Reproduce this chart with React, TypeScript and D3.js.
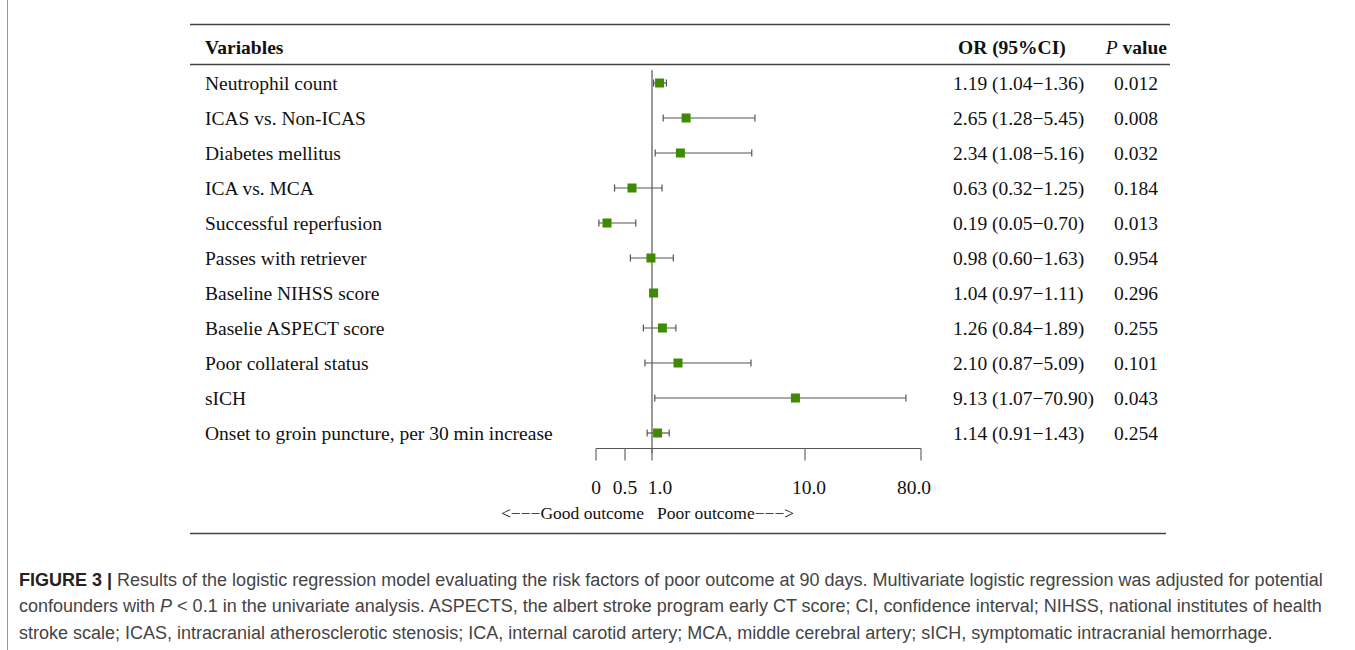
import React from "react";
import * as d3 from "d3";

const variables = [
  "Neutrophil count",
  "ICAS vs. Non-ICAS",
  "Diabetes mellitus",
  "ICA vs. MCA",
  "Successful reperfusion",
  "Passes with retriever",
  "Baseline NIHSS score",
  "Baselie ASPECT score",
  "Poor collateral status",
  "sICH",
  "Onset to groin puncture, per 30 min increase",
];
const oddsRatios = [1.19, 2.65, 2.34, 0.63, 0.19, 0.98, 1.04, 1.26, 2.1, 9.13, 1.14];
const ciLow = [1.04, 1.28, 1.08, 0.32, 0.05, 0.6, 0.97, 0.84, 0.87, 1.07, 0.91];
const ciHigh = [1.36, 5.45, 5.16, 1.25, 0.7, 1.63, 1.11, 1.89, 5.09, 70.9, 1.43];
const pValues = ["0.012", "0.008", "0.032", "0.184", "0.013", "0.954", "0.296", "0.255", "0.101", "0.043", "0.254"];
const tickValues = [0, 0.5, 1, 10, 80];
const tickLabels = ["0", "0.5", "1.0", "10.0", "80.0"];

const serif = "'Liberation Serif', 'Times New Roman', serif";
const sans = "'Liberation Sans', Arial, sans-serif";
const green = "#3f8a00";
const ink = "#444";
const fs = 19.5;

const fmt = (v: number) => v.toFixed(2);

export default function App() {
  // the original axis is hand-spaced, not linear or log, so use a piecewise scale
  const x = d3
    .scaleLinear()
    .domain([0, 0.5, 1, 1.5, 2.5, 5, 10, 80])
    .range([596, 625, 652, 672, 682, 750, 805, 921]);
  const y = d3.scaleBand().domain(variables).range([65.5, 450.5]);
  const cy = (v: string) => (y(v) as number) + y.bandwidth() / 2;
  const axisY = 448.5;
  const capH = 3.5;
  const sq = 9;

  return (
    <div style={{ position: "absolute", left: 0, top: 0 }}>
      <svg width={1355} height={650} style={{ display: "block" }}>
        <rect width={1355} height={650} fill="#fff" />
        <line x1={7.5} x2={7.5} y1={0} y2={650} stroke="#999" strokeWidth={1} />

        {/* table rules */}
        <line x1={190} x2={1170} y1={24.5} y2={24.5} stroke={ink} strokeWidth={1.5} />
        <line x1={190} x2={1170} y1={64.5} y2={64.5} stroke={ink} strokeWidth={1.5} />
        <line x1={190} x2={1166} y1={533.5} y2={533.5} stroke={ink} strokeWidth={1.5} />

        {/* header */}
        <g fontFamily={serif} fontSize={fs} fill="#111">
          <text x={205} y={53.5} fontWeight="bold">Variables</text>
          <text x={958} y={53.5} fontWeight="bold">OR (95%CI)</text>
          <text x={1167} y={53.5} textAnchor="end">
            <tspan fontStyle="italic">P</tspan>
            <tspan fontWeight="bold"> value</tspan>
          </text>
        </g>

        {/* reference line at OR = 1 */}
        <line x1={x(1)} x2={x(1)} y1={70} y2={453} stroke="#555" strokeWidth={1.2} />

        {variables.map((v, i) => {
          const yy = cy(v);
          return (
            <g key={v}>
              <text x={205} y={yy + 0.5} dy="0.35em" fontFamily={serif} fontSize={fs} fill="#111">
                {v}
              </text>
              <line x1={x(ciLow[i])} x2={x(ciHigh[i])} y1={yy} y2={yy} stroke="#555" strokeWidth={1.2} />
              <line x1={x(ciLow[i])} x2={x(ciLow[i])} y1={yy - capH} y2={yy + capH} stroke="#555" strokeWidth={1.2} />
              <line x1={x(ciHigh[i])} x2={x(ciHigh[i])} y1={yy - capH} y2={yy + capH} stroke="#555" strokeWidth={1.2} />
              <rect x={x(oddsRatios[i]) - sq / 2} y={yy - sq / 2} width={sq} height={sq} fill={green} />
              <text x={953} y={yy + 0.5} dy="0.35em" fontFamily={serif} fontSize={fs} fill="#111">
                {`${fmt(oddsRatios[i])} (${fmt(ciLow[i])}\u2212${fmt(ciHigh[i])})`}
              </text>
              <text x={1136} y={yy + 0.5} dy="0.35em" textAnchor="middle" fontFamily={serif} fontSize={fs} fill="#111">
                {pValues[i]}
              </text>
            </g>
          );
        })}

        {/* x axis, ticks hanging below */}
        <line x1={x(0)} x2={x(80)} y1={axisY} y2={axisY} stroke="#555" strokeWidth={1.2} />
        {tickValues.map((t, i) => (
          <g key={t}>
            <line x1={x(t)} x2={x(t)} y1={axisY} y2={axisY + 12} stroke="#666" strokeWidth={1.2} />
            <text
              x={x(t) + (t === 1 ? 8 : t === 10 ? 4 : t === 80 ? -7 : 0)}
              y={494}
              textAnchor="middle"
              fontFamily={serif}
              fontSize={fs}
              fill="#111"
            >
              {tickLabels[i]}
            </text>
          </g>
        ))}
        <g fontFamily={serif} fontSize={17.5} fill="#111">
          <text x={644} y={519} textAnchor="end">{"<\u2212\u2212\u2212Good outcome"}</text>
          <text x={657} y={519}>{"Poor outcome\u2212\u2212\u2212>"}</text>
        </g>

        {/* caption */}
        <g fontFamily={sans} fontSize={18} fill="#444">
          <text x={19} y={585.5}>
            <tspan fontWeight="bold" fill="#222">FIGURE 3 |</tspan>
            <tspan> Results of the logistic regression model evaluating the risk factors of poor outcome at 90 days. Multivariate logistic regression was adjusted for potential</tspan>
          </text>
          <text x={19} y={612}>
            <tspan>confounders with </tspan>
            <tspan fontStyle="italic">P</tspan>
            <tspan> &lt; 0.1 in the univariate analysis. ASPECTS, the albert stroke program early CT score; CI, confidence interval; NIHSS, national institutes of health</tspan>
          </text>
          <text x={19} y={638.5}>
            stroke scale; ICAS, intracranial atherosclerotic stenosis; ICA, internal carotid artery; MCA, middle cerebral artery; sICH, symptomatic intracranial hemorrhage.
          </text>
        </g>
      </svg>
    </div>
  );
}
